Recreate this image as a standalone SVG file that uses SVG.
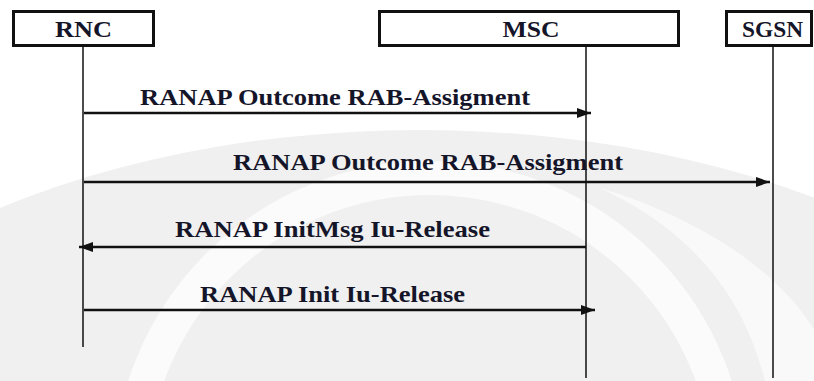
<svg xmlns="http://www.w3.org/2000/svg" width="814" height="381" viewBox="0 0 814 381">
  <defs>
    <marker id="arrow" viewBox="0 0 14 10" refX="14" refY="5" markerWidth="14" markerHeight="10" markerUnits="userSpaceOnUse" orient="auto">
      <path d="M0,0 L14,5 L0,10 z" fill="#111"/>
    </marker>
  </defs>
  <style>
    .box { fill: #fff; stroke: #111; stroke-width: 3; }
    .life { stroke: #111; stroke-width: 1.5; fill: none; }
    .msg { stroke: #111; stroke-width: 2.5; fill: none; marker-end: url(#arrow); }
    .name { font-family: "Liberation Serif", "Times New Roman", serif; font-weight: bold; font-size: 24px; fill: #15152a; }
    .label { font-family: "Liberation Serif", "Times New Roman", serif; font-weight: bold; font-size: 24px; fill: #15152a; }
  </style>

  <!-- background emblem -->
  <g id="emblem">
    <rect x="0" y="0" width="814" height="381" fill="#fff"/>
    <ellipse cx="420" cy="520" rx="700" ry="390" fill="#f0f0f0"/>
    <circle cx="430" cy="478" r="300" fill="none" stroke="#fbfbfb" stroke-width="34"/>
    <path d="M600,188 C700,218 780,272 814,330 L814,381 L765,381 C745,300 695,232 600,188 z" fill="#f9f9f9"/>
  </g>

  <g id="rnc">
    <rect class="box" x="13.5" y="11.5" width="140" height="34"/>
    <text class="name" x="83.5" y="37" text-anchor="middle" textLength="57" lengthAdjust="spacingAndGlyphs">RNC</text>
  </g>
  <g id="msc">
    <rect class="box" x="379.5" y="11.5" width="299" height="34"/>
    <text class="name" x="531" y="37" text-anchor="middle" textLength="57" lengthAdjust="spacingAndGlyphs">MSC</text>
  </g>
  <g id="sgsn">
    <rect class="box" x="726.5" y="11.5" width="85" height="34"/>
    <text class="name" x="772.5" y="37" text-anchor="middle" textLength="61" lengthAdjust="spacingAndGlyphs">SGSN</text>
  </g>

  <g id="connectors">
    <!-- lifelines -->
    <line class="life" x1="83" y1="47" x2="83" y2="347"/>
    <line class="life" x1="586" y1="47" x2="586" y2="378"/>
    <line class="life" x1="773" y1="47" x2="773" y2="378"/>

    <!-- messages -->
    <line class="msg" x1="84" y1="113" x2="591" y2="113"/>
    <text class="label" x="140" y="105" textLength="390" lengthAdjust="spacingAndGlyphs">RANAP Outcome RAB-Assigment</text>

    <line class="msg" x1="84" y1="182" x2="770" y2="182"/>
    <text class="label" x="233" y="170" textLength="390" lengthAdjust="spacingAndGlyphs">RANAP Outcome RAB-Assigment</text>

    <line class="msg" x1="586" y1="247" x2="79" y2="247"/>
    <text class="label" x="175" y="237" textLength="315" lengthAdjust="spacingAndGlyphs">RANAP InitMsg Iu-Release</text>

    <line class="msg" x1="84" y1="310" x2="595" y2="310"/>
    <text class="label" x="200" y="302" textLength="265" lengthAdjust="spacingAndGlyphs">RANAP Init Iu-Release</text>
  </g>
</svg>
